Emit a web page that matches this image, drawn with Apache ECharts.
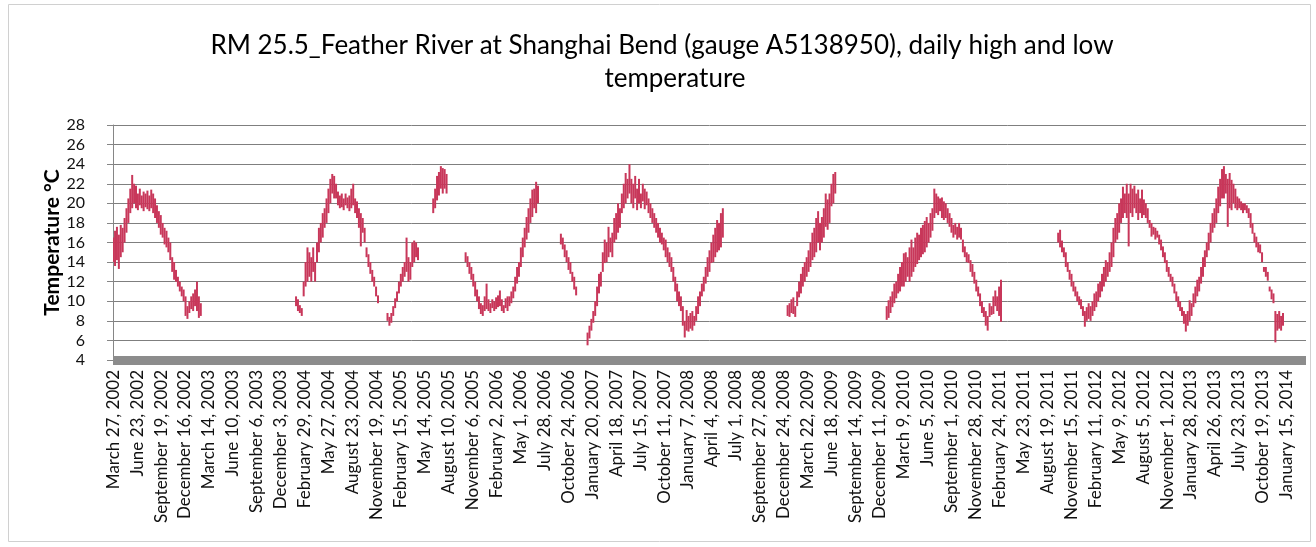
<!DOCTYPE html>
<html>
<head>
<meta charset="utf-8">
<script src="https://cdn.jsdelivr.net/npm/echarts/dist/echarts.min.js"></script>
<style>
html,body{margin:0;padding:0;background:#fff;}
#chart{width:1316px;height:547px;}
</style>
</head>
<body>
<div id="chart"></div>
<script>
// ---- Categories: one per day, starting March 27, 2002 ----
const startYear = 2002, startMonth = 2, startDay = 27; // March 27, 2002
const dayCount = 4383;
const labelEvery = 88; // a label every 88 days
const monthNames = ['January','February','March','April','May','June','July','August','September','October','November','December'];

// ---- Values: weekly samples (every 7 days) of daily low / high, °C ----
const sampleDays = 7;
const segmentStartWeeks = [0, 96, 168, 185, 235, 249, 354, 406, 496];

const lowA  = [14.0,13.6,14.2,13.3,14.5,15.0,16.0,17.0,18.0,19.0,19.5,20.0,19.5,19.3,19.8,19.5,19.2,19.6,19.4,19.2,19.5,19.0,18.5,18.0,17.5,16.8,16.5,15.8,15.5,15.0,14.2,13.0,12.2,12.0,11.5,11.0,10.5,10.0,8.5,8.2,8.8,9.2,9.0,9.5,9.0,8.3,8.5];
const highA = [16.5,17.2,17.6,16.8,17.8,17.5,18.5,19.5,20.5,21.5,22.9,22.0,21.8,21.0,21.5,20.8,21.2,21.0,21.3,20.8,21.4,21.0,20.5,19.8,19.2,18.8,18.0,17.5,17.2,16.5,16.0,14.5,14.0,13.2,12.5,12.0,11.5,11.2,10.5,9.5,10.0,10.5,10.8,11.2,12.0,10.5,9.8];

const lowB  = [9.5,9.0,8.8,8.5,10.5,11.5,12.0,12.5,12.0,13.0,12.0,14.0,15.0,16.0,16.5,17.5,18.0,19.0,20.0,21.0,20.5,20.5,19.8,19.5,19.6,19.3,19.8,19.5,19.2,19.5,19.8,19.0,18.5,17.5,15.6,17.0,16.0,14.5,13.5,12.8,12.0,11.5,10.5,9.8,null,null,null,null,8.0,7.5,7.8,8.5,9.3,10.0,10.8,11.5,12.0,12.5,13.0,12.0,12.2,13.5,14.0,14.5,14.2];
const highB = [10.5,10.2,9.6,9.3,12.0,14.0,15.5,15.0,14.5,15.5,14.0,16.0,17.5,18.0,19.0,19.5,20.5,21.5,22.5,23.0,22.8,22.0,21.2,20.8,21.0,20.5,21.0,20.6,20.8,21.5,22.0,20.5,20.2,19.5,19.0,18.5,17.5,15.5,14.8,14.0,13.2,12.5,11.5,10.6,null,null,null,null,8.8,8.4,8.8,9.5,10.3,11.0,12.0,12.8,13.5,14.0,16.5,14.5,14.0,16.0,16.2,16.0,15.5];

const lowC  = [19.0,19.5,20.3,20.8,21.5,21.0,21.5,21.0];
const highC = [20.5,21.5,22.8,23.2,23.8,23.6,23.5,23.0];

const lowD  = [14.0,13.5,12.8,12.2,11.5,10.5,10.0,9.2,8.7,8.5,9.0,9.2,9.0,8.8,9.3,9.0,9.2,9.4,9.5,9.0,8.8,9.3,9.0,9.5,9.8,10.3,11.0,11.8,12.5,13.5,14.5,15.5,16.3,17.0,18.0,18.6,19.5,19.0,20.0];
const highD = [15.0,14.6,14.0,13.5,12.8,12.0,11.2,10.5,9.8,9.6,10.5,11.8,10.2,9.8,10.2,10.0,10.4,10.6,11.1,10.2,9.6,10.3,10.5,10.5,11.0,11.5,12.5,13.5,14.0,15.5,16.5,17.5,18.6,19.5,20.5,21.4,21.5,22.2,21.8];

const lowE  = [15.8,15.3,14.5,14.0,13.2,12.8,12.0,11.2,10.6];
const highE = [16.9,16.5,15.8,15.2,14.5,14.0,13.0,12.5,11.5];

const lowF  = [5.5,6.2,7.0,7.8,8.5,9.5,10.8,11.5,13.0,13.9,14.0,14.5,15.0,14.5,16.0,16.3,17.0,17.5,19.0,19.5,20.0,20.5,21.0,20.0,19.5,20.5,19.3,20.0,19.5,20.2,19.4,19.8,19.0,18.5,18.0,17.5,17.0,16.5,16.0,15.8,15.2,14.5,14.0,13.5,13.0,12.0,11.0,10.0,9.5,9.0,7.5,6.3,7.0,6.9,7.2,7.0,7.5,8.0,8.7,9.5,10.5,11.0,11.8,12.5,13.0,13.9,14.0,14.5,15.0,15.2,15.5,16.5];
const highF = [6.8,7.5,8.2,9.0,10.0,11.5,12.8,13.0,15.0,16.3,16.0,17.6,16.5,17.0,18.5,19.0,20.0,19.5,21.0,22.0,23.1,22.5,24.0,22.5,22.0,22.8,21.5,22.5,21.0,22.0,21.5,21.2,20.5,20.0,19.5,19.0,18.5,18.0,17.5,17.0,16.5,16.3,15.5,15.0,14.5,13.5,12.5,11.8,11.0,10.5,9.5,8.0,9.1,8.5,8.8,9.0,8.5,9.5,10.5,11.0,11.8,12.5,13.5,14.5,15.2,16.0,16.8,17.5,18.3,18.0,19.0,19.5];

const lowG  = [8.5,8.4,8.8,8.7,8.4,9.5,10.4,10.8,11.5,12.0,12.5,13.0,13.5,14.2,14.5,15.0,16.0,15.2,16.0,16.5,17.6,17.3,18.0,19.7,20.0,21.0];
const highG = [9.6,9.8,10.2,10.4,9.5,11.0,12.0,12.8,13.5,14.0,14.5,15.2,16.0,17.0,17.5,18.5,19.2,18.0,18.6,19.5,21.0,20.4,21.0,22.0,23.0,23.2];

const lowH  = [8.1,8.3,8.8,9.4,9.8,10.3,10.8,11.0,11.5,11.5,12.0,12.5,12.0,12.5,13.0,13.5,13.8,14.2,14.5,14.8,15.0,15.5,16.0,16.5,17.2,18.5,19.0,18.8,19.2,18.5,18.3,18.5,18.0,17.6,17.0,16.5,16.8,16.3,16.5,16.3,15.0,14.5,14.0,13.9,13.0,12.5,11.8,11.0,10.5,9.5,8.8,8.4,7.5,7.0,8.4,8.6,8.7,9.5,9.0,8.5,7.9];
const highH = [9.5,10.1,10.5,11.0,11.8,12.0,12.8,13.5,14.0,14.9,15.0,14.5,15.5,16.3,15.5,16.5,17.0,16.8,17.5,17.8,18.2,18.6,18.0,19.0,19.5,21.5,21.0,20.7,20.5,20.6,20.2,20.0,19.5,19.0,18.5,17.8,18.0,17.6,18.0,17.5,16.3,15.6,15.0,14.8,14.2,13.8,13.0,12.2,11.5,10.8,10.0,9.4,9.0,8.5,9.8,9.5,10.5,11.1,10.5,11.5,12.2];

const lowI  = [16.0,15.5,15.0,14.5,13.5,13.0,12.2,11.5,11.0,10.5,10.0,9.6,9.2,8.5,7.4,8.0,8.2,8.0,8.5,9.0,9.4,10.0,10.4,11.0,11.5,12.0,12.5,13.0,13.5,14.5,16.0,16.3,17.0,18.0,18.5,19.0,18.5,15.6,19.0,18.6,19.5,19.0,18.3,19.0,18.5,18.8,18.5,18.0,17.5,16.6,16.8,16.3,16.5,15.8,15.2,14.5,13.9,13.0,12.5,12.0,11.5,10.8,10.0,9.4,9.0,8.5,7.7,6.9,7.5,8.0,8.5,9.4,9.8,10.5,11.0,11.8,12.5,13.5,14.5,15.2,16.0,17.0,17.5,18.0,19.0,19.7,20.5,20.5,21.0,17.6,19.5,19.3,20.0,19.5,19.3,19.5,19.3,19.0,19.3,19.0,18.5,17.5,16.9,16.0,15.5,15.0,14.9,14.0,13.0,12.5,12.1,11.0,10.2,9.8,5.8,7.0,7.2,7.0,7.5];
const highI = [17.0,17.3,16.2,15.5,15.0,14.0,13.2,12.8,12.0,11.5,11.0,10.5,10.2,9.5,9.0,9.4,9.8,9.5,10.0,10.8,11.0,11.8,12.0,12.8,13.5,14.2,14.0,15.0,16.0,17.5,18.5,19.0,20.0,20.5,21.7,21.0,22.0,21.0,22.0,21.5,21.8,21.0,21.4,20.5,21.4,20.4,20.0,19.5,18.3,18.0,17.6,17.5,17.2,16.8,16.3,15.6,15.0,14.2,13.5,12.8,12.5,11.8,11.0,10.5,10.0,9.4,9.0,8.7,9.0,10.1,9.8,10.8,11.5,12.2,12.5,13.5,14.5,15.2,16.0,17.0,18.0,19.0,19.5,20.5,21.7,22.5,23.5,23.8,23.0,22.5,23.1,22.4,22.0,21.5,20.7,20.5,20.2,20.0,20.0,19.8,19.5,19.0,18.0,17.0,16.6,16.0,15.8,15.0,13.5,13.5,13.0,11.5,11.2,10.8,9.0,8.7,9.0,8.5,8.8];

const yTicks = {min: 4, max: 28, step: 2};

// ---- Build library inputs ----
const categories = [];
for (let i = 0; i < dayCount; i++) {
  const d = new Date(Date.UTC(startYear, startMonth, startDay + i));
  categories.push(monthNames[d.getUTCMonth()] + ' ' + d.getUTCDate() + ', ' + d.getUTCFullYear());
}
const lowSegments  = [lowA, lowB, lowC, lowD, lowE, lowF, lowG, lowH, lowI];
const highSegments = [highA, highB, highC, highD, highE, highF, highG, highH, highI];
const rangeData = [];
segmentStartWeeks.forEach((w0, s) => {
  lowSegments[s].forEach((lo, j) => {
    const hi = highSegments[s][j];
    if (lo == null || hi == null) return;
    rangeData.push([(w0 + j) * sampleDays, lo, hi]);
  });
});

const chart = echarts.init(document.getElementById('chart'), null, {renderer: 'canvas'});
const font = 'Lato, "Open Sans", sans-serif';
chart.setOption({
  animation: false,
  backgroundColor: '#ffffff',
  title: [
    {text: 'RM 25.5_Feather River at Shanghai Bend (gauge A5138950), daily high and low',
     left: 657, top: 28, textAlign: 'center',
     textStyle: {fontFamily: font, fontSize: 26, fontWeight: 'normal', color: '#000'}},
    {text: 'temperature', left: 670, top: 61, textAlign: 'center',
     textStyle: {fontFamily: font, fontSize: 26, fontWeight: 'normal', color: '#000'}}
  ],
  graphic: [{
    type: 'rect', silent: true, z: -1,
    shape: {x: 8.5, y: 4.5, width: 1302, height: 537},
    style: {fill: 'none', stroke: '#d0d0d0', lineWidth: 1}
  }],
  grid: {left: 113, right: 10, top: 125, bottom: 187},
  xAxis: {
    type: 'category',
    data: categories,
    boundaryGap: true,
    axisLine: {show: true, lineStyle: {color: '#8c8c8c', width: 9, cap: 'butt'}},
    axisTick: {show: false},
    splitLine: {show: false},
    axisLabel: {
      interval: labelEvery - 1,
      rotate: 90,
      margin: 10,
      fontFamily: font,
      fontSize: 17,
      color: '#111'
    }
  },
  yAxis: {
    type: 'value',
    min: yTicks.min, max: yTicks.max, interval: yTicks.step,
    name: 'Temperature °C',
    nameLocation: 'middle',
    nameGap: 50,
    nameMoveOverlap: false,
    nameRotate: 90,
    nameTextStyle: {fontFamily: font, fontSize: 21, fontWeight: 'bold', color: '#000'},
    axisLine: {show: true, lineStyle: {color: '#868686', width: 1}},
    axisTick: {show: true, length: 6, lineStyle: {color: '#868686'}},
    splitLine: {show: true, lineStyle: {color: '#7f7f7f', width: 1}},
    axisLabel: {margin: 28, fontFamily: font, fontSize: 16, color: '#111'}
  },
  series: [{
    type: 'custom',
    name: 'Daily high and low',
    data: rangeData,
    encode: {x: 0, y: [1, 2]},
    clip: true,
    renderItem: function (params, api) {
      const lo = api.coord([api.value(0), api.value(1)]);
      const hi = api.coord([api.value(0), api.value(2)]);
      return {
        type: 'line',
        shape: {x1: lo[0], y1: lo[1], x2: hi[0], y2: hi[1]},
        style: {stroke: '#c8375a', lineWidth: 2}
      };
    }
  }]
});
</script>
</body>
</html>
